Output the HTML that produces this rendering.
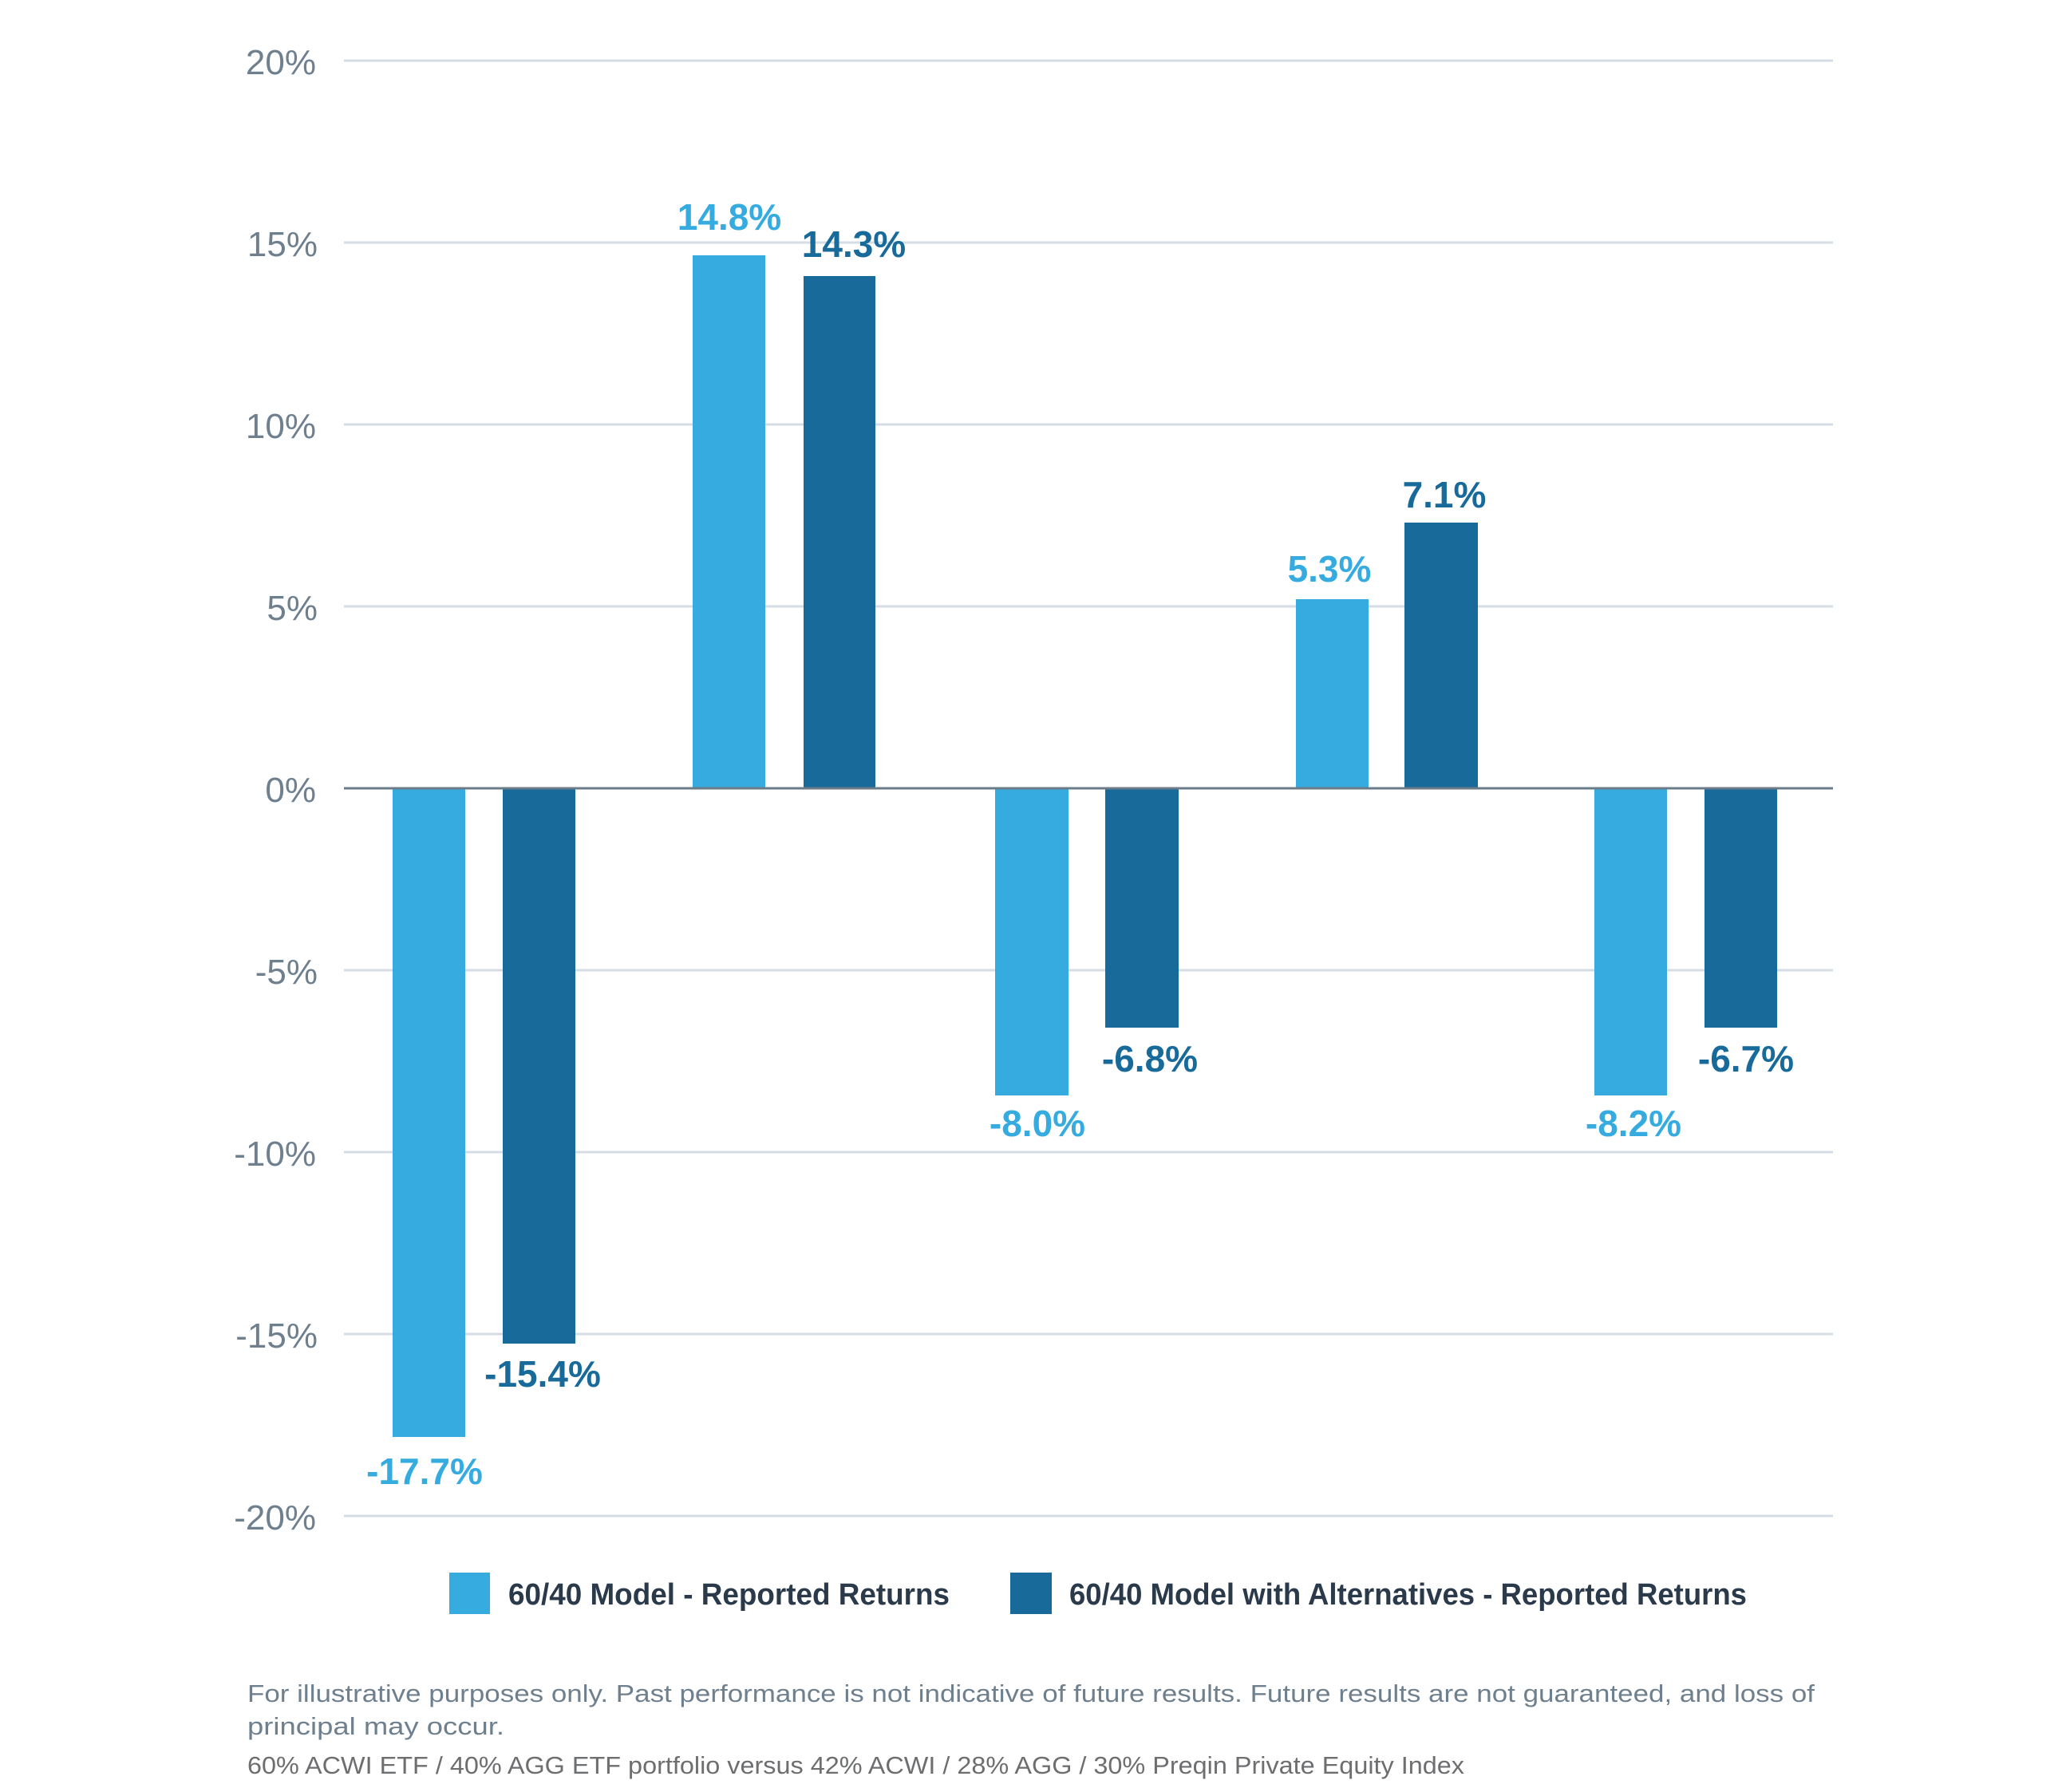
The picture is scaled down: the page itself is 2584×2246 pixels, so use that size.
<!DOCTYPE html>
<html><head><meta charset="utf-8"><style>
html,body{margin:0;padding:0;background:#fff;}
svg{display:block;}
</style></head><body>
<svg width="2584" height="2246" viewBox="0 0 2584 2246" xmlns="http://www.w3.org/2000/svg" font-family="Liberation Sans, sans-serif">
<rect width="2584" height="2246" fill="#fff"/>
<g stroke="#d6dce4" stroke-width="3">
<line x1="431" x2="2297" y1="76" y2="76"/>
<line x1="431" x2="2297" y1="304" y2="304"/>
<line x1="431" x2="2297" y1="532" y2="532"/>
<line x1="431" x2="2297" y1="760" y2="760"/>
<line x1="431" x2="2297" y1="1216" y2="1216"/>
<line x1="431" x2="2297" y1="1444" y2="1444"/>
<line x1="431" x2="2297" y1="1672" y2="1672"/>
<line x1="431" x2="2297" y1="1900" y2="1900"/>
</g>
<g fill="#6e7f8e" font-size="44" text-anchor="end">
<text x="396" y="93">20%</text>
<text x="398" y="321">15%</text>
<text x="396" y="549">10%</text>
<text x="398" y="777">5%</text>
<text x="396" y="1005">0%</text>
<text x="398" y="1233">-5%</text>
<text x="396" y="1461">-10%</text>
<text x="398" y="1689">-15%</text>
<text x="396" y="1917">-20%</text>
</g>
<g fill="#35abdf">
<rect x="492" y="988" width="91" height="813"/>
<rect x="868" y="320" width="91" height="668"/>
<rect x="1247" y="988" width="92" height="385"/>
<rect x="1624" y="751" width="91" height="237"/>
<rect x="1998" y="988" width="91" height="385"/>
</g>
<g fill="#186a9b">
<rect x="630" y="988" width="91" height="696"/>
<rect x="1007" y="346" width="90" height="642"/>
<rect x="1385" y="988" width="92" height="300"/>
<rect x="1760" y="655" width="92" height="333"/>
<rect x="2136" y="988" width="91" height="300"/>
</g>
<line x1="431" x2="2297" y1="988" y2="988" stroke="#6b7b88" stroke-width="3"/>
<g font-size="46" font-weight="bold" text-anchor="middle">
<text x="914" y="288" fill="#35abdf">14.8%</text>
<text x="1070" y="322" fill="#186a9b">14.3%</text>
<text x="1666" y="729" fill="#35abdf">5.3%</text>
<text x="1810" y="636" fill="#186a9b">7.1%</text>
<text x="532" y="1860" fill="#35abdf">-17.7%</text>
<text x="680" y="1738" fill="#186a9b">-15.4%</text>
<text x="1300" y="1424" fill="#35abdf">-8.0%</text>
<text x="1441" y="1343" fill="#186a9b">-6.8%</text>
<text x="2047" y="1424" fill="#35abdf">-8.2%</text>
<text x="2188" y="1343" fill="#186a9b">-6.7%</text>
</g>
<rect x="563" y="1971" width="51" height="52" fill="#35abdf"/>
<rect x="1266" y="1971" width="52" height="52" fill="#186a9b"/>
<g font-size="38" font-weight="bold" fill="#2a3a4a">
<text x="637" y="2011" textLength="553" lengthAdjust="spacingAndGlyphs">60/40 Model - Reported Returns</text>
<text x="1340" y="2011" textLength="849" lengthAdjust="spacingAndGlyphs">60/40 Model with Alternatives - Reported Returns</text>
</g>
<g font-size="31" fill="#6e7f8e">
<text x="310" y="2133" textLength="1964" lengthAdjust="spacingAndGlyphs">For illustrative purposes only. Past performance is not indicative of future results. Future results are not guaranteed, and loss of</text>
<text x="310" y="2174" textLength="322" lengthAdjust="spacingAndGlyphs">principal may occur.</text>
<text x="310" y="2223" fill="#6d6e70" textLength="1525" lengthAdjust="spacingAndGlyphs">60% ACWI ETF / 40% AGG ETF portfolio versus 42% ACWI / 28% AGG / 30% Preqin Private Equity Index</text>
</g>
</svg>
</body></html>
